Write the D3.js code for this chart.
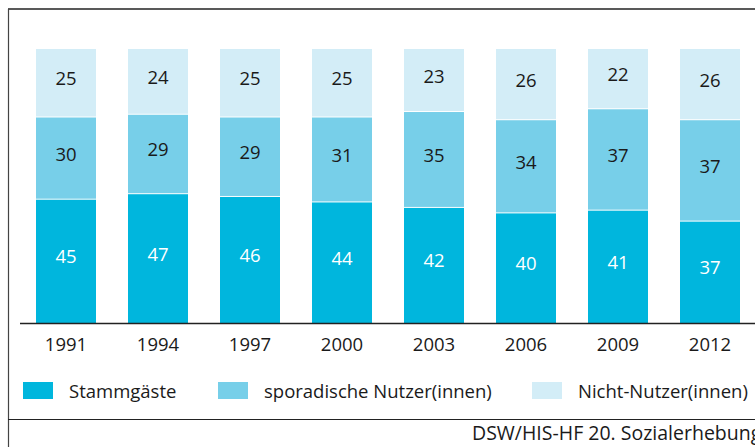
<!DOCTYPE html>
<html lang="de">
<head>
<meta charset="UTF-8">
<title>Mensanutzung</title>
<script src="https://d3js.org/d3.v7.min.js"></script>
<style>
  html, body { margin: 0; padding: 0; background: #fff; }
  svg { display: block; }
  text { font-family: "Open Sans", sans-serif; fill: #1a1a1a; }
</style>
</head>
<body>
<svg width="755" height="447"></svg>
<script>
const years = ["1991", "1994", "1997", "2000", "2003", "2006", "2009", "2012"];
const stamm = [45, 47, 46, 44, 42, 40, 41, 37];
const sporadisch = [30, 29, 29, 31, 35, 34, 37, 37];
const nicht = [25, 24, 25, 25, 23, 26, 22, 26];
const seriesNames = ["Stammgäste", "sporadische Nutzer(innen)", "Nicht-Nutzer(innen)"];
const colors = ["#00b6dd", "#77cfe9", "#d3edf7"];
const source = "DSW/HIS-HF 20. Sozialerhebung";

const svg = d3.select("svg");
const W = 755, H = 447;
const fs = 18.5;

// frame
svg.append("line").attr("x1", 8).attr("x2", W).attr("y1", 9).attr("y2", 9)
  .attr("stroke", "#222").attr("stroke-width", 1.4);
svg.append("line").attr("x1", 8.5).attr("x2", 8.5).attr("y1", 9).attr("y2", H)
  .attr("stroke", "#444").attr("stroke-width", 1.2);
svg.append("line").attr("x1", 8).attr("x2", W).attr("y1", 419.5).attr("y2", 419.5)
  .attr("stroke", "#222").attr("stroke-width", 1.2);

const rows = years.map((y, i) => ({ year: y, s0: stamm[i], s1: sporadisch[i], s2: nicht[i] }));
const stack = d3.stack().keys(["s0", "s1", "s2"])(rows);

const x = d3.scaleBand().domain(years).range([20, 756])
  .paddingInner(32 / 92).paddingOuter(16 / 92);
const y = d3.scaleLinear().domain([0, 100]).range([323, 49]);

const g = svg.append("g");
stack.forEach((layer, li) => {
  g.selectAll(null).data(layer).enter().append("rect")
    .attr("x", d => x(d.data.year))
    .attr("width", x.bandwidth())
    .attr("y", d => y(d[1]))
    .attr("height", d => y(d[0]) - y(d[1]) - (li > 0 ? 1 : 0))
    .attr("fill", colors[li]);
  g.selectAll(null).data(layer).enter().append("text")
    .attr("x", d => x(d.data.year) + x.bandwidth() / 2)
    .attr("y", d => (y(d[0]) + y(d[1])) / 2 + 2)
    .attr("text-anchor", "middle")
    .attr("font-size", fs)
    .style("fill", li === 0 ? "#fff" : "#1a1a1a")
    .text(d => d[1] - d[0]);
});

// x axis
const xAxis = d3.axisBottom(x).tickSize(0).tickPadding(0);
const ax = svg.append("g").attr("transform", "translate(0,323.5)").call(xAxis);
ax.select(".domain").attr("d", "M20,0H755").attr("stroke", "#222").attr("stroke-width", 1.3);
ax.selectAll("text").attr("dy", null).attr("y", 27.5).attr("font-size", fs)
  .style("font-family", "'Open Sans', sans-serif").style("fill", "#1a1a1a");

// legend
const legendX = [23, 218, 532];
const leg = svg.append("g");
seriesNames.forEach((n, i) => {
  leg.append("rect").attr("x", legendX[i]).attr("y", 382).attr("width", 30).attr("height", 17)
    .attr("fill", colors[i]);
  leg.append("text").attr("x", legendX[i] + 46).attr("y", 397.5).attr("font-size", fs).text(n);
});

svg.append("text").attr("x", 472).attr("y", 440).attr("font-size", 19.5).text(source);
</script>
</body>
</html>
